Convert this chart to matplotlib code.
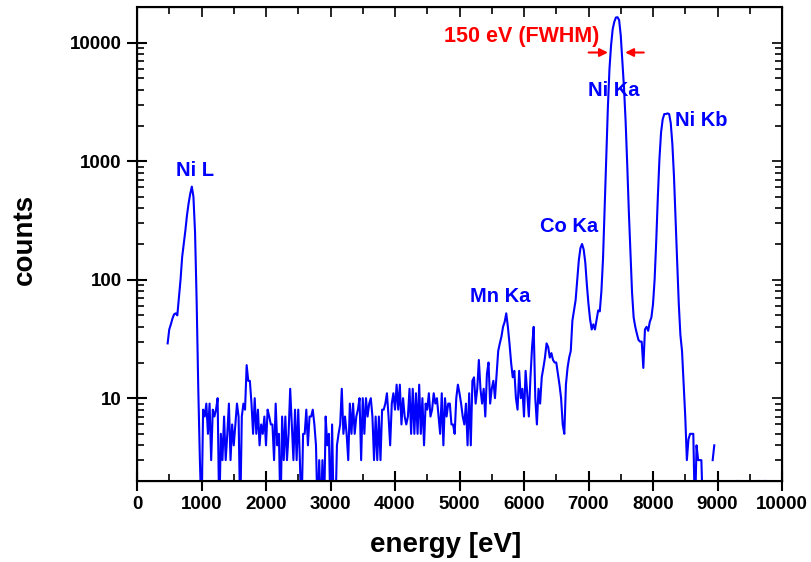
import numpy as np
import matplotlib
matplotlib.use("Agg")
import matplotlib.pyplot as plt
from matplotlib.ticker import MultipleLocator, FixedLocator, FuncFormatter, LogLocator, NullFormatter

plt.rcParams["font.family"] = ["Liberation Sans", "DejaVu Sans"]
plt.rcParams["font.weight"] = "bold"

# =====================================
# Spectrum data (25 eV channels)
# =====================================
energy_start = 475
channel_width = 25

# Ni L peak, 475 - 1000 eV
counts_ni_l = [29, 38, 42, 47, 51, 52, 50, 70, 100, 155,
               200, 260, 350, 440, 530, 610, 500, 250, 65, 12,
               3, 1]

# background, 1025 - 3425 eV
counts_bg_low = [8, 7, 9, 5, 9, 3, 8, 7, 8, 10,
                 1, 5, 3, 7, 3, 5, 9, 3, 6, 4,
                 6, 9, 7, 1, 7, 9, 8, 19, 14, 14,
                 9, 5, 10, 5, 8, 4, 6, 5, 7, 4,
                 8, 7, 6, 6, 3, 9, 4, 5, 1, 7,
                 3, 7, 3, 5, 12, 6, 3, 8, 3, 8,
                 3, 1, 5, 5, 8, 4, 7, 7, 8, 6,
                 4, 1, 3, 1, 3, 1, 7, 4, 5, 1,
                 6, 1, 1, 4, 5, 6, 12, 5, 7, 5,
                 3, 9, 5, 9, 5, 7, 8]

# background, 3450 - 5600 eV
counts_bg_mid = [10, 3, 10, 5, 10, 7, 9, 10, 7,
                 3, 7, 3, 7, 3, 8, 8, 9, 11, 7,
                 4, 9, 11, 8, 13, 8, 13, 6, 10, 7,
                 6, 7, 12, 5, 12, 5, 11, 5, 13, 5,
                 10, 4, 9, 8, 11, 7, 8, 11, 9, 10,
                 7, 5, 11, 4, 10, 7, 9, 9, 6,
                 6, 5, 10, 13, 11, 9, 7, 6, 9, 4,
                 11, 4, 14, 15, 9, 12, 21, 12, 9,
                 12, 7, 16, 20, 9, 12, 14, 10, 16,
                 25]

# Mn Ka region, 5625 - 6800 eV
counts_mn = [29, 33, 40, 44, 52, 40, 29, 20, 15, 17,
             10, 8, 17, 10, 12, 7, 17, 11, 7, 15,
             27, 40, 10, 6, 12, 9, 15, 18, 22, 29,
             27, 22, 24, 21, 20, 20, 16, 13, 10, 6,
             5, 13, 18, 22, 25, 45, 55, 67]

# Co Ka, Ni Ka, Ni Kb, 6825 - 8775 eV
counts_k = [99, 146, 185, 200, 180, 140, 90, 62, 46, 38,
            42, 38, 46, 55, 54, 80, 150, 400, 1000, 2800,
            6000, 9500, 13000, 15000, 16300, 16400, 15500, 11500, 7000, 4200,
            2200, 950, 380, 170, 78, 48, 40, 35, 31, 30,
            30, 18, 38, 40, 37, 44, 48, 62, 100, 210,
            500, 1050, 1750, 2250, 2500, 2500, 2530, 2500, 2100, 1400,
            750, 320, 140, 62, 34, 25, 13, 7, 3, 4.5,
            5, 5, 5, 1, 4, 3, 3, 3, 1]

# tail, 8800 - 9975 eV (nan = empty channel)
nan = np.nan
counts_tail = [nan, nan, nan, nan, nan, 3, 4, nan, 2, 2,
               nan, nan, nan, nan, nan, nan, nan, nan, nan, nan,
               2, 2, nan, nan, nan, nan, nan, nan, nan, nan,
               nan, nan, nan, 2, 2, nan, nan, 2, 2, nan,
               nan, nan, nan, nan, nan, nan, nan, nan]

peak_labels = ["Ni L", "Mn Ka", "Co Ka", "Ni Ka", "Ni Kb"]
peak_label_x = [894, 5628, 6698, 7397, 8745]
peak_label_y = [840, 72, 279, 3970, 2220]

fwhm_text = "150 eV (FWHM)"
fwhm_left = [6959, 7345]
fwhm_right = [7900, 7525]
fwhm_y = 8260

counts = np.array(counts_ni_l + counts_bg_low + counts_bg_mid
                  + counts_mn + counts_k + counts_tail, dtype=float)
energy = energy_start + channel_width * np.arange(len(counts))

# =====================================
# Plot
# =====================================
fig = plt.figure(figsize=(8.11, 5.62), dpi=100)
ax = fig.add_axes([137 / 811, 1 - 481 / 562, 645 / 811, 474 / 562])

ax.plot(energy, counts, color="#0000ff", lw=1.5)

ax.set_yscale("log")
ax.set_xlim(0, 10000)
ax.set_ylim(2, 20000)

ax.xaxis.set_major_locator(MultipleLocator(1000))
ax.xaxis.set_minor_locator(MultipleLocator(500))
ax.yaxis.set_major_locator(FixedLocator([10, 100, 1000, 10000]))
ax.yaxis.set_major_formatter(FuncFormatter(lambda v, p: f"{v:.0f}"))
ax.yaxis.set_minor_locator(LogLocator(subs=np.arange(2, 10)))
ax.yaxis.set_minor_formatter(NullFormatter())

ax.tick_params(which="major", direction="inout", length=14, width=1.5,
               labelsize=13.5, pad=4)
ax.tick_params(which="minor", direction="in", length=5, width=1.2)
for s in ax.spines.values():
    s.set_linewidth(1.5)

# top / right ticks pointing inwards
axt = ax.twiny()
axt.set_xlim(ax.get_xlim())
axt.xaxis.set_major_locator(MultipleLocator(1000))
axt.xaxis.set_minor_locator(MultipleLocator(500))
axt.tick_params(which="both", direction="in", labeltop=False, width=1.2)
axt.tick_params(which="major", length=7)
axt.tick_params(which="minor", length=5)

axr = ax.twinx()
axr.set_yscale("log")
axr.set_ylim(ax.get_ylim())
axr.yaxis.set_major_locator(FixedLocator([10, 100, 1000, 10000]))
axr.yaxis.set_minor_locator(LogLocator(subs=np.arange(2, 10)))
axr.yaxis.set_minor_formatter(NullFormatter())
axr.tick_params(which="both", direction="in", labelright=False, width=1.2)
axr.tick_params(which="major", length=7)
axr.tick_params(which="minor", length=5)

ax.set_xlabel("energy [eV]", fontsize=20, fontweight="bold")
ax.set_ylabel("counts", fontsize=20, fontweight="bold")
ax.xaxis.set_label_coords(0.478, -0.108)
ax.yaxis.set_label_coords(-0.154, 0.51)

for name, x, y in zip(peak_labels, peak_label_x, peak_label_y):
    ax.text(x, y, name, color="#0000ff", fontsize=14.5, fontweight="bold",
            ha="center", va="center")

ax.text(5968, 11200, fwhm_text, color="red", fontsize=15.5, fontweight="bold",
        ha="center", va="center")
ax.annotate("", xy=(fwhm_left[1], fwhm_y), xytext=(fwhm_left[0], fwhm_y),
            arrowprops=dict(arrowstyle="-|>", color="red", lw=1.5, mutation_scale=12))
ax.annotate("", xy=(fwhm_right[1], fwhm_y), xytext=(fwhm_right[0], fwhm_y),
            arrowprops=dict(arrowstyle="-|>", color="red", lw=1.5, mutation_scale=12))

fig.savefig("out.png", dpi=100)
